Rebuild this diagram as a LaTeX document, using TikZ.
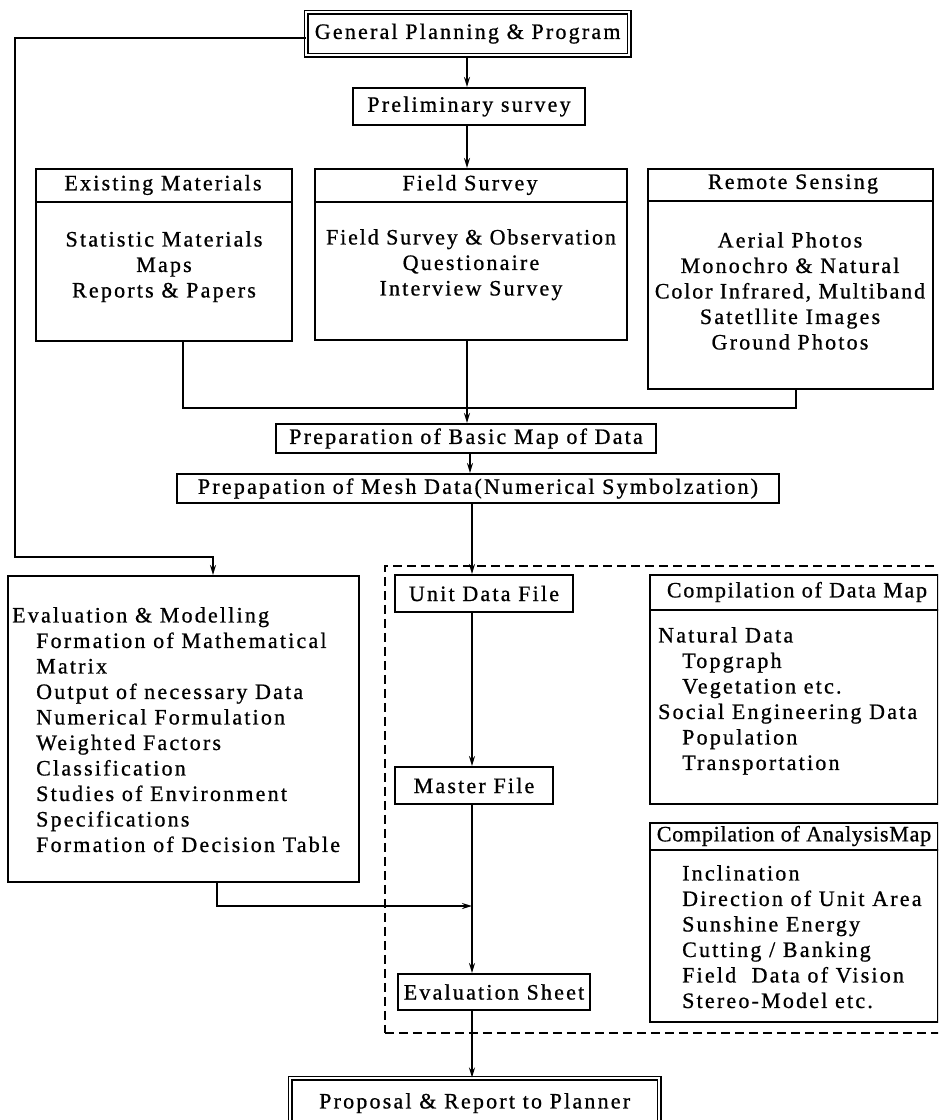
\documentclass[tikz,border=0pt]{standalone}
\usepackage{fontspec}
\setmainfont{Liberation Serif}[LetterSpace=10,FakeBold=0.8]
\newfontfamily\datafont{Liberation Serif}[LetterSpace=8,FakeBold=0.8]
\newfontfamily\anafont{Liberation Serif}[LetterSpace=3.5,FakeBold=0.8]
\newfontfamily\fsfont{Liberation Serif}[LetterSpace=8.5,FakeBold=0.8]
\newcommand\fsz{\fontsize{22pt}{25.5pt}\selectfont}
\usetikzlibrary{arrows.meta}
\begin{document}
\begin{tikzpicture}[x=1pt,y=-1pt,
  box/.style={draw, line width=2pt, inner sep=0pt, anchor=north west, font=\fsz},
  dbl/.style={double, double distance=2.4pt, line width=1.3pt},
  grpbox/.style={draw, dashed, dash pattern=on 9pt off 5pt, line width=1.8pt, inner sep=0pt, anchor=north west},
  txt/.style={inner sep=0pt, font=\fsz},
  ln/.style={line width=2pt},
  conn/.style={line width=1.7pt},
  arr/.style={conn, -{Stealth[length=10pt,width=6pt]}}]
\useasboundingbox (0,0) rectangle (938,1120);
\fill[white] (0,0) rectangle (938,1120);
\clip (0,0) rectangle (938,1120);

% boxes
\node[box, dbl, minimum width=323pt, minimum height=43pt] (gp) at (305.5,11.5) {General Planning \& Program};
\node[box, minimum width=232pt, minimum height=37pt] (pre) at (352,87) {Preliminary survey};
\node[box, minimum width=256pt, minimum height=172pt] (ex) at (35,168) {};
\node[box, minimum width=312pt, minimum height=171pt] (fs) at (314,168) {};
\node[box, minimum width=285pt, minimum height=220pt] (rs) at (647,168) {};
\node[box, minimum width=380pt, minimum height=29pt] (bm) at (275,423) {Preparation of Basic Map of Data};
\node[box, minimum width=602pt, minimum height=29pt] (mesh) at (176,473) {Prepapation of Mesh Data(Numerical Symbolzation)};
\node[box, minimum width=351pt, minimum height=306pt] (em) at (7,575) {};
\node[grpbox, minimum width=580pt, minimum height=467pt] (grp) at (384,565) {};
\node[box, minimum width=178pt, minimum height=37pt] (ud) at (394,574) {Unit Data File};
\node[box, minimum width=158pt, minimum height=37pt] (mf) at (394,766) {Master File};
\node[box, minimum width=192pt, minimum height=36pt] (es) at (397,973) {Evaluation Sheet};
\node[box, minimum width=288pt, minimum height=229pt] (dm) at (649,574) {};
\node[box, minimum width=288pt, minimum height=199pt] (am) at (649,822) {};
\node[box, dbl, minimum width=369pt, minimum height=50pt] (pr) at (289.5,1077.5) {Proposal \& Report to Planner};

% header dividers
\draw[ln] ([yshift=-34pt]ex.north west) -- ([yshift=-34pt]ex.north east);
\draw[ln] ([yshift=-34pt]fs.north west) -- ([yshift=-34pt]fs.north east);
\draw[ln] ([yshift=-33pt]rs.north west) -- ([yshift=-33pt]rs.north east);
\draw[ln] ([yshift=-36pt]dm.north west) -- ([yshift=-36pt]dm.north east);
\draw[ln] ([yshift=-28pt]am.north west) -- ([yshift=-28pt]am.north east);

% texts
\node[txt] (exh) at (163,185) {Existing Materials};
\node[txt, align=center, anchor=north] (exb) at (164,231) {Statistic Materials\\Maps\\Reports \& Papers};
\node[txt] (fsh) at (470,185) {Field Survey};
\node[txt, align=center, anchor=north] (fsb) at (471,229) {{\fsfont Field Survey \& Observation}\\Questionaire\\Interview Survey};
\node[txt] (rsh) at (793,184) {Remote Sensing};
\node[txt, align=center, anchor=north] (rsb) at (790,232) {Aerial Photos\\Monochro \& Natural\\{\fsfont Color Infrared, Multiband}\\Satetllite Images\\Ground Photos};
\node[txt, align=left, anchor=north west] (emb) at (12,607) {Evaluation \& Modelling\\
\hspace*{24pt}Formation of Mathematical\\
\hspace*{24pt}Matrix\\
\hspace*{24pt}Output of necessary Data\\
\hspace*{24pt}Numerical Formulation\\
\hspace*{24pt}Weighted Factors\\
\hspace*{24pt}Classification\\
\hspace*{24pt}Studies of Environment\\
\hspace*{24pt}Specifications\\
\hspace*{24pt}Formation of Decision Table};
\node[txt] (dmh) at (797,592) {\datafont Compilation of Data Map};
\node[txt, align=left, anchor=north west] (dmb) at (658,627) {Natural Data\\
\hspace*{24pt}Topgraph\\
\hspace*{24pt}Vegetation etc.\\
Social Engineering Data\\
\hspace*{24pt}Population\\
\hspace*{24pt}Transportation};
\node[txt] (amh) at (794,836) {\anafont Compilation of AnalysisMap};
\node[txt, align=left, anchor=north west] (amb) at (682,865) {Inclination\\
Direction of Unit Area\\
Sunshine Energy\\
Cutting / Banking\\
Field\ \ Data of Vision\\
Stereo-Model etc.};

% spine coordinates
\coordinate (sA) at (467,0);
\coordinate (sM) at (470,0);
\coordinate (sB) at (472,0);
\coordinate (jn) at (467,408);
\coordinate (exx) at (183,408);
\coordinate (rsx) at (796,408);
\coordinate (emx) at (217,906);
\coordinate (fbA) at (15,38);
\coordinate (fbB) at (15,557);
\coordinate (fbC) at (213,557);

% connectors
\draw[arr] (gp.south -| sA) -- (pre.north -| sA);
\draw[arr] (pre.south -| sA) -- (fs.north -| sA);
\draw[arr] (fs.south -| sA) -- (bm.north -| sA);
\draw[conn] (ex.south -| exx) -- (exx) -- (jn);
\draw[conn] (rs.south -| rsx) -- (rsx) -- (jn);
\draw[arr] (bm.south -| sM) -- (mesh.north -| sM);
\draw[arr] (mesh.south -| sB) -- (ud.north -| sB);
\draw[arr] (ud.south -| sB) -- (mf.north -| sB);
\draw[arr] (mf.south -| sB) -- (es.north -| sB);
\draw[arr] (es.south -| sB) -- (pr.north -| sB);
\draw[arr] (em.south -| emx) -- (emx) -- (emx -| sB);
\draw[arr] (gp.west |- fbA) -- (fbA) -- (fbB) -- (fbC) -- (em.north -| fbC);
\end{tikzpicture}
\end{document}
